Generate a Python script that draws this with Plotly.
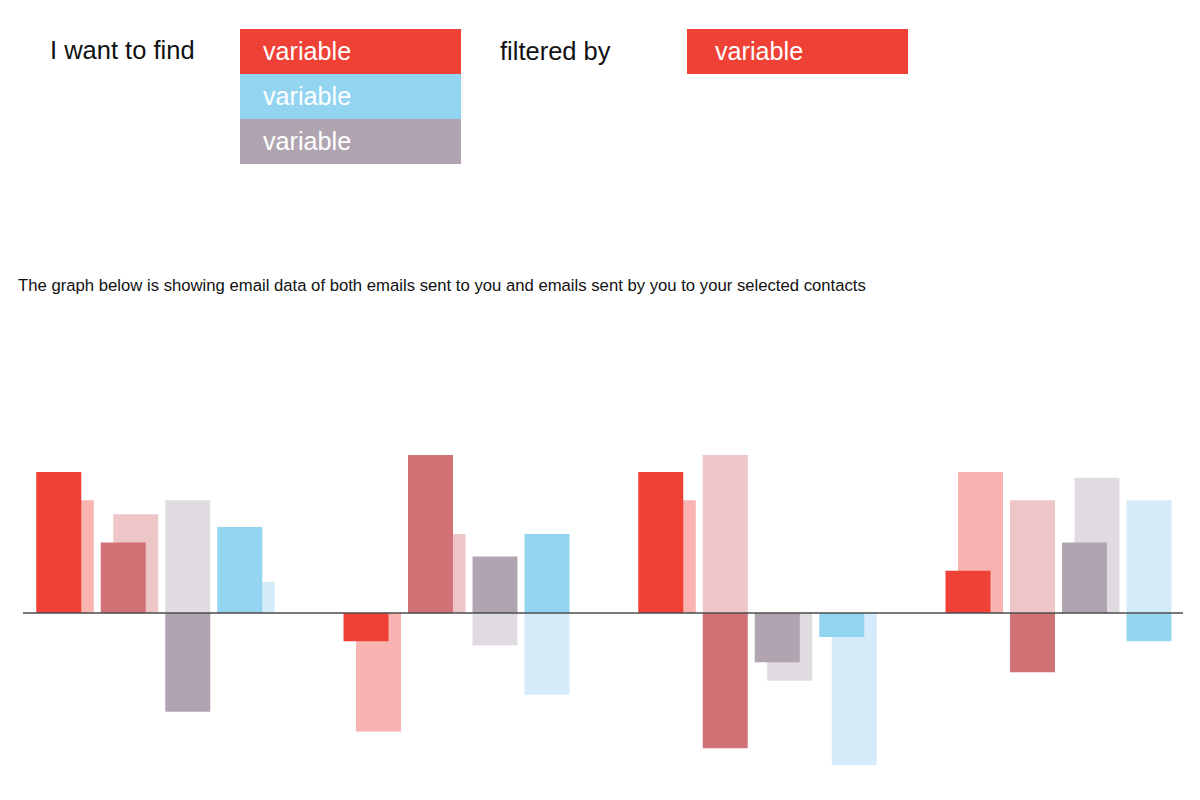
import plotly.graph_objects as go

# contacts along the chart (not labelled in the picture)
groups = ["Contact 1", "Contact 2", "Contact 3", "Contact 4"]
variables = ["variable 1", "variable 2", "variable 3", "variable 4"]

# dark bars: emails sent to you
received_1 = [100, -20, 100, 30]
received_2 = [50, 112, -96, -42]
received_3 = [-70, 40, -35, 50]
received_4 = [61, 56, -17, -20]

# light bars: emails sent by you
sent_1 = [80, -84, 80, 100]
sent_2 = [70, 56, 112, 80]
sent_3 = [80, -23, -48, 96]
sent_4 = [22, -58, -108, 80]

received = [received_1, received_2, received_3, received_4]
sent = [sent_1, sent_2, sent_3, sent_4]

dark_colors = ["#ef4136", "#d07276", "#b0a4b1", "#93d4f1"]
light_colors = ["#f9b3b0", "#eec6c7", "#e0dbe1", "#d4ecf9"]

# layout constants in page pixels (the page body adds an 8px margin)
W, H = 1200, 800
PAD = 8
bar_w = 45
shift = 12.5      # light bar slides right when both bars point the same way
gap = 7
slot = 301
first_center = 155.5
baseline_px = 613
px_per_unit = 1.41

# work out where every bar sits
dark_x = [[] for _ in variables]
light_x = [[] for _ in variables]
for g in range(len(groups)):
    offs = []
    for v in range(len(variables)):
        same = (received[v][g] >= 0) == (sent[v][g] >= 0)
        offs.append(shift if same else 0)
    width = sum(bar_w + o for o in offs) + gap * (len(variables) - 1)
    cursor = first_center + slot * g - width / 2
    for v in range(len(variables)):
        dark_x[v].append(cursor + bar_w / 2)
        light_x[v].append(cursor + offs[v] + bar_w / 2)
        cursor += bar_w + offs[v] + gap

fig = go.Figure()
for v, name in enumerate(variables):
    fig.add_trace(go.Bar(
        x=light_x[v], y=sent[v], width=bar_w, name=name + " (sent by you)",
        marker=dict(color=light_colors[v], line=dict(width=0)),
        customdata=groups, hovertemplate="%{customdata}: %{y}<extra></extra>",
    ))
for v, name in enumerate(variables):
    fig.add_trace(go.Bar(
        x=dark_x[v], y=received[v], width=bar_w, name=name + " (sent to you)",
        marker=dict(color=dark_colors[v], line=dict(width=0)),
        customdata=groups, hovertemplate="%{customdata}: %{y}<extra></extra>",
    ))


def py(y):
    # page pixel row -> paper fraction
    return 1 - (y - PAD) / H


font = "Liberation Sans, Arial, sans-serif"

shapes = [
    # axis line
    dict(type="line", xref="x", yref="y", x0=23, x1=1183, y0=0, y1=0,
         line=dict(color="#4d4d4d", width=1.5)),
]
# selector boxes
boxes = [(240, 29, 461, 74, "#ef4136"), (240, 74, 461, 119, "#93d4f1"),
         (240, 119, 461, 164, "#b0a4b1"), (687, 29, 908, 74, "#ef4136")]
for x0, y0, x1, y1, c in boxes:
    shapes.append(dict(type="rect", xref="x", yref="paper", x0=x0, x1=x1,
                       y0=py(y1), y1=py(y0), fillcolor=c, line=dict(width=0),
                       layer="below"))

labels = [
    (48, 50, "I want to find", "#111111", 25.5),
    (261, 51, "variable", "white", 25.2),
    (261, 96, "variable", "white", 25.2),
    (261, 141, "variable", "white", 25.2),
    (498, 51, "filtered by", "#111111", 25.5),
    (713, 51, "variable", "white", 25.2),
    (16, 286, "The graph below is showing email data of both emails sent to you "
              "and emails sent by you to your selected contacts", "#111111", 16.7),
]
annotations = [
    dict(x=x, y=py(y), xref="x", yref="paper", text=t, showarrow=False,
         xanchor="left", yanchor="middle", font=dict(family=font, size=s, color=c))
    for x, y, t, c, s in labels
]

fig.update_layout(
    width=W, height=H,
    margin=dict(l=0, r=0, t=0, b=0),
    paper_bgcolor="white", plot_bgcolor="white",
    barmode="overlay", showlegend=False,
    xaxis=dict(range=[PAD, W + PAD], visible=False, fixedrange=True),
    yaxis=dict(range=[-(H + PAD - baseline_px) / px_per_unit,
                      (baseline_px - PAD) / px_per_unit],
               visible=False, fixedrange=True),
    shapes=shapes, annotations=annotations,
)

fig.write_html("out.html", config={"displayModeBar": False})
